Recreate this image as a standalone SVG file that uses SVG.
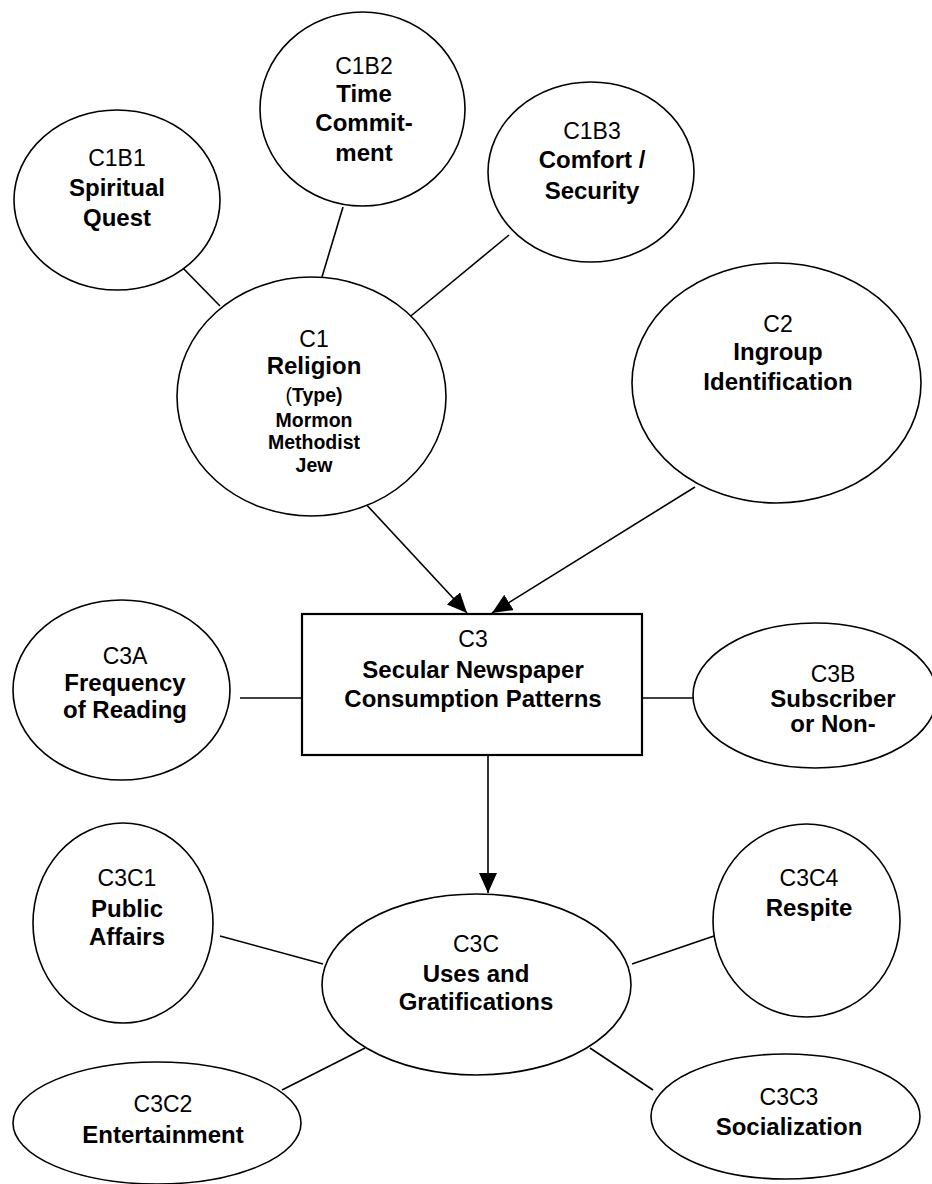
<svg xmlns="http://www.w3.org/2000/svg" width="932" height="1184" viewBox="0 0 932 1184">
<style>
.n{fill:#fff;stroke:#000;stroke-width:1.6}
.b{fill:#fff;stroke:#000;stroke-width:2.2}
.c{stroke:#000;stroke-width:1.6;fill:none}
text{font-family:"Liberation Sans",Arial,sans-serif;text-anchor:middle;fill:#000}
.r{font-size:23px}
.t{font-size:24px;font-weight:bold}
.s{font-size:19.5px;font-weight:bold}
</style>
<defs>
<marker id="ah" markerUnits="userSpaceOnUse" markerWidth="22" markerHeight="20" refX="20" refY="9" orient="auto">
<path d="M0,0 L20,9 L0,18 z" fill="#000"/>
</marker>
</defs>
<g id="connectors">
<line class="c" x1="178" y1="263" x2="220" y2="306"/>
<line class="c" x1="343" y1="207" x2="322" y2="277"/>
<line class="c" x1="509" y1="235" x2="406" y2="320"/>
<line class="c" x1="364" y1="502" x2="467" y2="613" marker-end="url(#ah)"/>
<line class="c" x1="695" y1="487" x2="492" y2="613" marker-end="url(#ah)"/>
<line class="c" x1="240" y1="698" x2="302" y2="698"/>
<line class="c" x1="632" y1="698" x2="693" y2="698"/>
<line class="c" x1="488" y1="753" x2="488" y2="893" marker-end="url(#ah)"/>
<line class="c" x1="220" y1="936" x2="323" y2="964"/>
<line class="c" x1="632" y1="964" x2="714" y2="936"/>
<line class="c" x1="365" y1="1048" x2="282" y2="1090"/>
<line class="c" x1="590" y1="1048" x2="653" y2="1090"/>
</g>
<g id="C1B1">
<ellipse class="n" cx="117" cy="200" rx="103" ry="90"/>
<text class="r" x="117" y="166">C1B1</text>
<text class="t" x="117" y="196">Spiritual</text>
<text class="t" x="117" y="226">Quest</text>
</g>
<g id="C1B2">
<ellipse class="n" cx="362.5" cy="109" rx="102.5" ry="97"/>
<text class="r" x="364" y="74">C1B2</text>
<text class="t" x="364" y="102">Time</text>
<text class="t" x="364" y="131">Commit-</text>
<text class="t" x="364" y="161">ment</text>
</g>
<g id="C1B3">
<ellipse class="n" cx="591" cy="172" rx="103" ry="90"/>
<text class="r" x="592" y="139">C1B3</text>
<text class="t" x="592" y="168">Comfort /</text>
<text class="t" x="592" y="199">Security</text>
</g>
<g id="C1">
<ellipse class="n" cx="311.5" cy="396.5" rx="134.5" ry="119.5"/>
<text class="r" x="314" y="347">C1</text>
<text class="t" x="314" y="374">Religion</text>
<text class="s" x="314" y="402"><tspan font-weight="normal">(</tspan>Type)</text>
<text class="s" x="314" y="427">Mormon</text>
<text class="s" x="314" y="449">Methodist</text>
<text class="s" x="314" y="472">Jew</text>
</g>
<g id="C2">
<ellipse class="n" cx="776.5" cy="383" rx="144.5" ry="120"/>
<text class="r" x="778" y="332">C2</text>
<text class="t" x="778" y="360">Ingroup</text>
<text class="t" x="778" y="390">Identification</text>
</g>
<g id="C3">
<rect class="b" x="302" y="614" width="340" height="141"/>
<text class="r" x="473" y="647">C3</text>
<text class="t" x="473" y="678">Secular Newspaper</text>
<text class="t" x="473" y="707">Consumption Patterns</text>
</g>
<g id="C3A">
<ellipse class="n" cx="121.5" cy="690" rx="108.5" ry="90"/>
<text class="r" x="125" y="664">C3A</text>
<text class="t" x="125" y="691">Frequency</text>
<text class="t" x="125" y="718">of Reading</text>
</g>
<g id="C3B">
<ellipse class="n" cx="815" cy="695.5" rx="122" ry="72.5"/>
<text class="r" x="833" y="682">C3B</text>
<text class="t" x="833" y="707">Subscriber</text>
<text class="t" x="833" y="732">or Non-</text>
</g>
<g id="C3C">
<ellipse class="n" cx="476.5" cy="984.5" rx="154.5" ry="90.5"/>
<text class="r" x="476" y="952">C3C</text>
<text class="t" x="476" y="982">Uses and</text>
<text class="t" x="476" y="1010">Gratifications</text>
</g>
<g id="C3C1">
<ellipse class="n" cx="123" cy="923" rx="90" ry="100"/>
<text class="r" x="127" y="886">C3C1</text>
<text class="t" x="127" y="917">Public</text>
<text class="t" x="127" y="945">Affairs</text>
</g>
<g id="C3C4">
<ellipse class="n" cx="806.5" cy="920.5" rx="93.5" ry="96.5"/>
<text class="r" x="809" y="886">C3C4</text>
<text class="t" x="809" y="916">Respite</text>
</g>
<g id="C3C2">
<ellipse class="n" cx="157" cy="1123" rx="144" ry="61"/>
<text class="r" x="163" y="1112">C3C2</text>
<text class="t" x="163" y="1143">Entertainment</text>
</g>
<g id="C3C3">
<ellipse class="n" cx="785.5" cy="1116.5" rx="134.5" ry="62.5"/>
<text class="r" x="789" y="1105">C3C3</text>
<text class="t" x="789" y="1135">Socialization</text>
</g>
</svg>
